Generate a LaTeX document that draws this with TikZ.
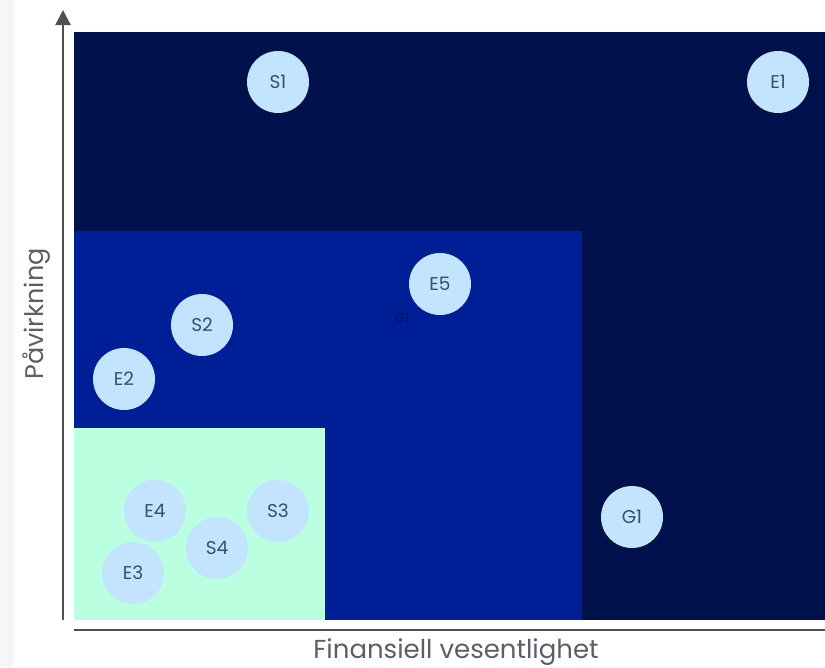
\documentclass[tikz,border=0pt]{standalone}
\usepackage{fontspec}
\setmainfont{Poppins}
\usetikzlibrary{arrows.meta}
\definecolor{navy}{HTML}{00104A}
\definecolor{midblue}{HTML}{001E96}
\definecolor{mint}{HTML}{BAFFE0}
\definecolor{bubble}{HTML}{C2E4FF}
\definecolor{bubbletext}{HTML}{3A4C70}
\definecolor{axisgray}{HTML}{505050}
\definecolor{labelgray}{HTML}{5A6066}
\definecolor{strip}{HTML}{F5F7F7}
\tikzset{
  bub/.style={circle, fill=bubble, minimum size=62pt, inner sep=0pt, text=bubbletext, font=\fontsize{18.5}{20}\selectfont},
  ghost/.style={text=navy, font=\fontsize{13}{14}\selectfont, inner sep=0pt},
  axis/.style={draw=axisgray, line width=2.2pt},
}
\begin{document}
\begin{tikzpicture}[x=1pt,y=-1pt]
\useasboundingbox (0,0) rectangle (825,667);
\fill[white] (0,0) rectangle (825,667);
\fill[strip] (0,0) rectangle (14,667);
% regions
\fill[navy] (74,32) rectangle (825,620);
\node[ghost] (g2) at (100,233) {E2};
\fill[midblue] (74,231) rectangle (582,620);
\fill[mint] (74,428) rectangle (325,620);
\node[ghost] (g1) at (402,318) {G1};
% axes
\coordinate (ybot) at (63,620);
\coordinate (ytop) at (63,10);
\draw[axis, -{Triangle[length=15pt,width=15pt]}] (ybot) -- (ytop);
\coordinate (xl) at (74,630);
\coordinate (xr) at (825,630);
\draw[axis] (xl) -- (xr);
\node[text=labelgray, font=\fontsize{26}{28}\selectfont, inner sep=0pt] (xlab) at (456,652) {Finansiell vesentlighet};
\node[text=labelgray, font=\fontsize{25.5}{28}\selectfont, inner sep=0pt, rotate=90] (ylab) at (37,314) {Påvirkning};
% bubbles
\node[bub] (S1) at (278,82) {S1};
\node[bub] (E1) at (778,82) {E1};
\node[bub] (E5) at (440,284) {E5};
\node[bub] (S2) at (202,325) {S2};
\node[bub] (E2) at (124,379) {E2};
\node[bub] (E4) at (155,511) {E4};
\node[bub] (S3) at (278,511) {S3};
\node[bub] (S4) at (217,548) {S4};
\node[bub] (E3) at (133,573) {E3};
\node[bub] (G1) at (632,517) {G1};
\end{tikzpicture}
\end{document}
